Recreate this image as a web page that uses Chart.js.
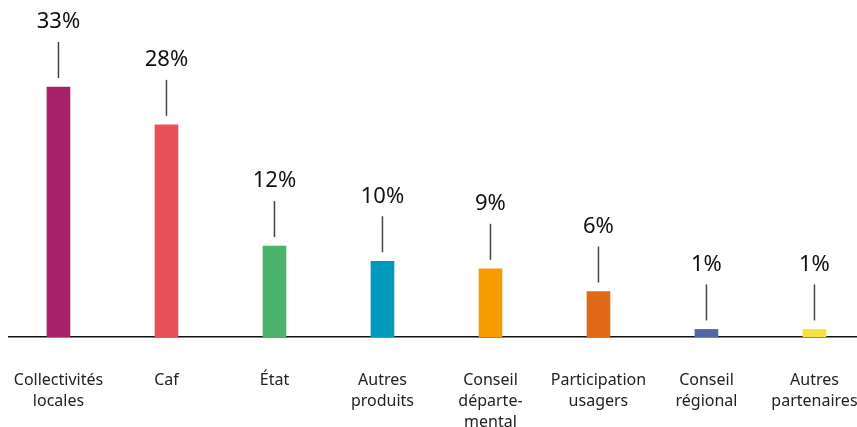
<!DOCTYPE html>
<html>
<head>
<meta charset="utf-8">
<script src="https://cdn.jsdelivr.net/npm/chart.js@4.4.0/dist/chart.umd.min.js"></script>
<style>
  html, body { margin: 0; padding: 0; background: #fff; }
  #wrap { width: 857px; height: 427px; position: relative; }
</style>
</head>
<body>
<div id="wrap"><canvas id="financeChart"></canvas></div>
<script>
// Données
const categories = [
    ['Collectivités', 'locales'],
    ['Caf'],
    ['État'],
    ['Autres', 'produits'],
    ['Conseil', 'départe-', 'mental'],
    ['Participation', 'usagers'],
    ['Conseil', 'régional'],
    ['Autres', 'partenaires']
];
const values = [33, 28, 12, 10, 9, 6, 1, 1];
const barColors = ['#A6206A', '#E9505A', '#4BB36B', '#0099BB', '#F59C00', '#E06A17', '#4F66A8', '#F7E245'];

const fontFamily = '"Noto Sans", "Open Sans", sans-serif';

// Étiquettes de valeur avec trait de rappel
const leaderLabels = {
    id: 'leaderLabels',
    afterDatasetsDraw(chart) {
        const ctx = chart.ctx;
        const meta = chart.getDatasetMeta(0);
        ctx.save();
        meta.data.forEach((bar, i) => {
            const top = bar.y;
            ctx.strokeStyle = '#444';
            ctx.lineWidth = 1.5;
            ctx.beginPath();
            ctx.moveTo(bar.x, top - 9);
            ctx.lineTo(bar.x, top - 45);
            ctx.stroke();
            ctx.fillStyle = '#111';
            ctx.font = '22px ' + fontFamily;
            ctx.textAlign = 'center';
            ctx.textBaseline = 'middle';
            ctx.fillText(values[i] + '%', bar.x, top - 65);
        });
        ctx.restore();
    }
};

new Chart(document.getElementById('financeChart'), {
    type: 'bar',
    data: {
        datasets: [{
            data: values.map((v, i) => ({ x: i, y: v })),
            backgroundColor: barColors,
            barThickness: 23
        }]
    },
    options: {
        responsive: true,
        maintainAspectRatio: false,
        animation: false,
        layout: { padding: { left: 9, right: 0, top: 0, bottom: 0 } },
        plugins: {
            legend: { display: false },
            tooltip: { enabled: false }
        },
        scales: {
            x: {
                type: 'linear',
                min: -0.458,
                max: 7.394,
                offset: false,
                grid: { display: false, offset: false },
                border: { display: true, color: '#111', width: 1.5 },
                afterBuildTicks: (scale) => {
                    scale.ticks = categories.map((c, i) => ({ value: i }));
                },
                afterFit: (scale) => {
                    scale.height = 90;
                    scale.paddingLeft = 0;
                    scale.paddingRight = 0;
                },
                ticks: {
                    autoSkip: false,
                    maxRotation: 0,
                    padding: 25,
                    color: '#222',
                    font: { family: fontFamily, size: 16, lineHeight: 1.3 },
                    callback: (value) => categories[value]
                }
            },
            y: {
                display: false,
                min: 0,
                max: 44.48
            }
        }
    },
    plugins: [leaderLabels]
});
</script>
</body>
</html>
